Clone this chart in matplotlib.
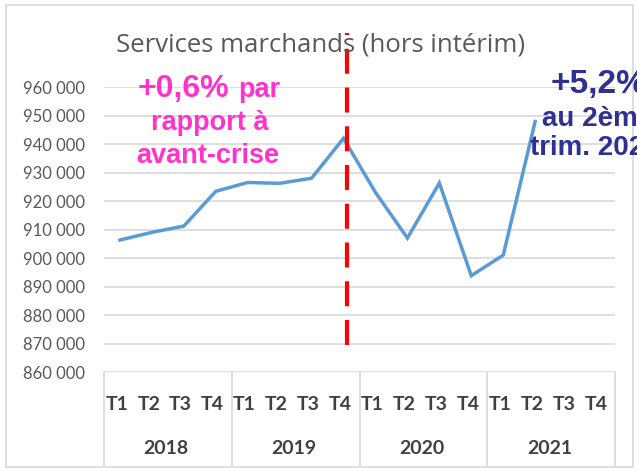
import matplotlib
matplotlib.use("Agg")
import matplotlib.pyplot as plt
from matplotlib.transforms import blended_transform_factory
from matplotlib.patches import Rectangle

years = ["2018", "2019", "2020", "2021"]
quarters = ["T1", "T2", "T3", "T4"]
values = [906300, 909000, 911200, 923400, 926500, 926200, 928000, 942000,
          923000, 907000, 926300, 893800, 901000, 947900]
yticks = [860000, 870000, 880000, 890000, 900000, 910000, 920000, 930000,
          940000, 950000, 960000]
title = "Services marchands (hors intérim)"

W, H = 637, 471
fig = plt.figure(figsize=(W / 100, H / 100), dpi=100)
fig.patch.set_facecolor("white")
fig.patches.append(Rectangle((6 / W, 4 / H), 627 / W, 462 / H, transform=fig.transFigure,
                             fill=False, edgecolor="#D9D9D9", lw=1.2))

left, right, top, bottom = 104, 615, 87, 372
ax = fig.add_axes([left / W, 1 - bottom / H, (right - left) / W, (bottom - top) / H])
n = len(years) * len(quarters)
ax.set_xlim(-0.5, n - 0.5)
ax.set_ylim(yticks[0], yticks[-1])
for s in ax.spines.values():
    s.set_visible(False)
ax.set_yticks(yticks)
ax.set_yticklabels([f"{v:,}".replace(",", " ") for v in yticks], fontsize=12,
                   color="#595959", family="Lato")
ax.tick_params(axis="y", length=0, pad=14)
ax.set_xticks([])
ax.grid(axis="y", color="#D9D9D9", lw=1.2)
ax.set_axisbelow(True)

ax.plot(range(len(values)), values, color="#5B9BD5", lw=2.5, solid_joinstyle="miter")

trans = blended_transform_factory(ax.transData, ax.transAxes)
axh = (bottom - top)
def ay(py):
    return (bottom - py) / axh

for g, yr in enumerate(years):
    for q, ql in enumerate(quarters):
        ax.text(g * 4 + q - 0.1, ay(405), ql, transform=trans, ha="center", va="center",
                fontsize=14, color="#404040", family="Lato", fontweight="bold")
    ax.text(g * 4 + 1.45, ay(448), yr, transform=trans, ha="center", va="center",
            fontsize=14, color="#404040", family="Lato", fontweight="bold")
for b in range(len(years) + 1):
    ax.plot([b * 4 - 0.5] * 2, [0, ay(466)], transform=trans, color="#D9D9D9",
            lw=1.2, clip_on=False)

# red dashed separator
ax.plot([7.1, 7.1], [ay(345), ay(33)], transform=trans, color="#FF0000", lw=3,
        dashes=(6, 3.3), clip_on=False)

fig.text(321 / W, 1 - 45 / H, title, ha="center", va="center", fontsize=18.5,
         color="#595959", family="Open Sans")

pink = "#FF33CC"
fig.text(138 / W, 1 - 89 / H, "+0,6%", ha="left", va="center", fontsize=23,
         color=pink, family="Liberation Sans", fontweight="bold")
fig.text(280 / W, 1 - 90 / H, "par", ha="right", va="center", fontsize=19.5,
         color=pink, family="Liberation Sans", fontweight="bold")
fig.text(210 / W, 1 - 123 / H, "rapport à", ha="center", va="center", fontsize=19.5,
         color=pink, family="Liberation Sans", fontweight="bold")
fig.text(208 / W, 1 - 156 / H, "avant-crise", ha="center", va="center", fontsize=19.5,
         color=pink, family="Liberation Sans", fontweight="bold")

blue = "#2E3192"
fig.text(551 / W, 1 - 84 / H, "+5,2%", ha="left", va="center", fontsize=24,
         color=blue, family="Liberation Sans", fontweight="bold")
fig.text(542 / W, 1 - 119 / H, "au 2ème", ha="left", va="center", fontsize=20,
         color=blue, family="Liberation Sans", fontweight="bold")
fig.text(530 / W, 1 - 148 / H, "trim. 2021", ha="left", va="center", fontsize=20,
         color=blue, family="Liberation Sans", fontweight="bold")

fig.savefig("out.png", dpi=100, facecolor="white")
